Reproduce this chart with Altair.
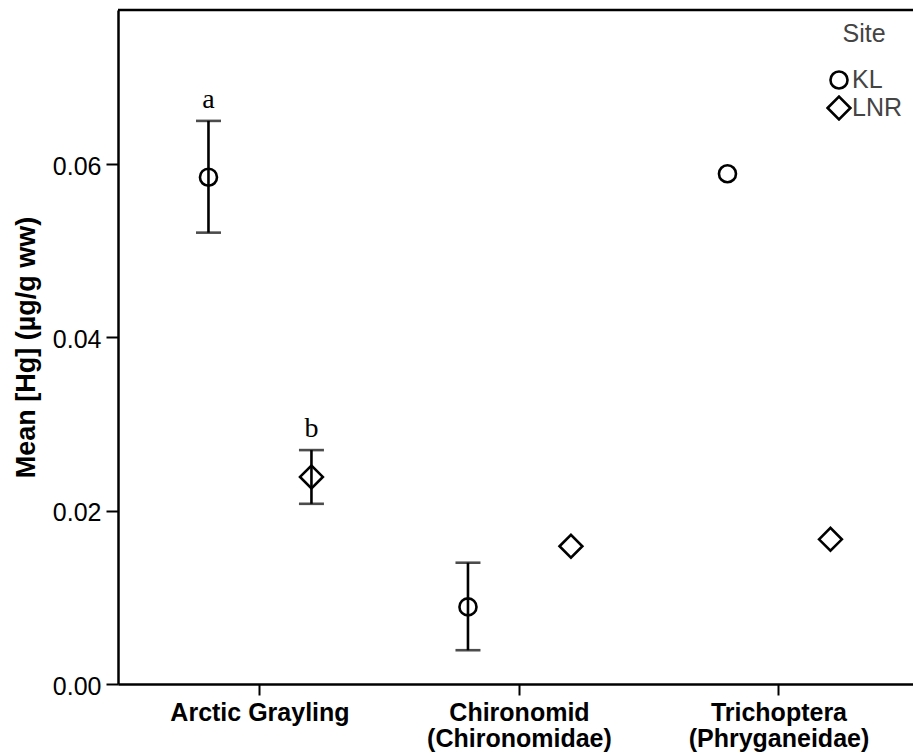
import altair as alt
import pandas as pd

categories = ["Arctic Grayling", "Chironomid (Chironomidae)", "Trichoptera (Phryganeidae)"]
sites = ["KL", "LNR"]
kl_mean = [0.0585, 0.0089, 0.0589]
lnr_mean = [0.0239, 0.0159, 0.0167]
kl_lower = [0.0521, 0.0039, None]
kl_upper = [0.0650, 0.0140, None]
lnr_lower = [0.0208, None, None]
lnr_upper = [0.0270, None, None]
letters_cat = ["Arctic Grayling", "Arctic Grayling"]
letters_site = ["KL", "LNR"]
letters_text = ["a", "b"]

rows = []
for i, c in enumerate(categories):
    rows.append({"cat": c, "site": "KL", "mean": kl_mean[i], "lo": kl_lower[i], "hi": kl_upper[i]})
    rows.append({"cat": c, "site": "LNR", "mean": lnr_mean[i], "lo": lnr_lower[i], "hi": lnr_upper[i]})
df = pd.DataFrame(rows)
err = df.dropna(subset=["lo", "hi"])
lett = pd.DataFrame({"cat": letters_cat, "site": letters_site, "letter": letters_text})
lett = lett.merge(df[["cat", "site", "hi"]], on=["cat", "site"])

W, H = 795, 674

xenc = alt.X("cat:N", sort=categories,
             scale=alt.Scale(paddingInner=0, paddingOuter=0.0318, align=0.74),
             axis=alt.Axis(title=None, labelAngle=0,
                           labelExpr="split(replace(datum.label, ' (', '|('), '|')",
                           labelFont="Liberation Sans", labelFontWeight="bold", labelFontSize=25,
                           labelColor="black", labelPadding=5, labelLineHeight=26, labelLimit=400,
                           tickSize=11, tickWidth=2, tickColor="black",
                           domainColor="black", domainWidth=2.5, grid=False))
xoff = alt.XOffset("site:N", sort=sites, scale=alt.Scale(paddingOuter=0.26, paddingInner=0))
yscale = alt.Scale(domain=[0, 0.0778], nice=False, zero=True)
yaxis = alt.Axis(title="Mean [Hg] (µg/g ww)", values=[0, 0.02, 0.04, 0.06], format=".2f",
                 labelFont="Liberation Sans", labelFontSize=25, labelColor="black", labelPadding=5,
                 labelOffset=2,
                 tickSize=12, tickWidth=2, tickColor="black",
                 domainColor="black", domainWidth=2.5, grid=False,
                 titleFont="Liberation Sans", titleFontWeight="bold", titleFontSize=27,
                 titleColor="black", titleX=-84, titleBaseline="alphabetic")

points = alt.Chart(df).mark_point(filled=False, color="black", strokeWidth=2.6, opacity=1).encode(
    x=xenc, xOffset=xoff,
    y=alt.Y("mean:Q", scale=yscale, axis=yaxis),
    shape=alt.Shape("site:N", sort=sites, scale=alt.Scale(domain=sites, range=["circle", "diamond"]),
                    legend=alt.Legend(title="Site", orient="none", legendX=708, legendY=12,
                                      titleFont="Liberation Sans", titleFontSize=25, titleFontWeight="normal",
                                      titleColor="#444", titleAnchor="middle", titleAlign="center",
                                      titlePadding=20,
                                      labelFont="Liberation Sans", labelFontSize=25, labelColor="#444",
                                      labelOffset=0, rowPadding=2, padding=0, clipHeight=26,
                                      symbolStrokeColor="black", symbolStrokeWidth=2.6,
                                      symbolFillColor="transparent")),
    size=alt.Size("site:N", sort=sites, scale=alt.Scale(domain=sites, range=[290, 520]),
                  legend=alt.Legend(title="Site")),
)

rules = alt.Chart(err).mark_rule(color="black", strokeWidth=2.6).encode(
    x=xenc, xOffset=xoff, y=alt.Y("lo:Q", scale=yscale), y2="hi:Q")
cap_hi = alt.Chart(err).mark_tick(color="black", thickness=2.6, size=25, orient="horizontal").encode(
    x=xenc, xOffset=xoff, y=alt.Y("hi:Q", scale=yscale))
cap_lo = alt.Chart(err).mark_tick(color="black", thickness=2.6, size=25, orient="horizontal").encode(
    x=xenc, xOffset=xoff, y=alt.Y("lo:Q", scale=yscale))
labels = alt.Chart(lett).mark_text(font="Liberation Serif", fontSize=28, color="black", dy=-13,
                                   baseline="alphabetic").encode(
    x=xenc, xOffset=xoff, y=alt.Y("hi:Q", scale=yscale), text="letter:N")
top = alt.Chart(pd.DataFrame({"k": [0]})).mark_rule(color="black", strokeWidth=2.5).encode(
    x=alt.value(0), x2=alt.value(W), y=alt.value(0))

chart = alt.layer(rules, cap_hi, cap_lo, points, labels, top).properties(
    width=W, height=H,
    autosize=alt.AutoSizeParams(type="none"),
    padding={"left": 118, "top": 10, "right": 0, "bottom": 71},
).configure_view(stroke=None).configure(background="white")

chart.save("out.html", embed_options={"renderer": "svg", "actions": False})
